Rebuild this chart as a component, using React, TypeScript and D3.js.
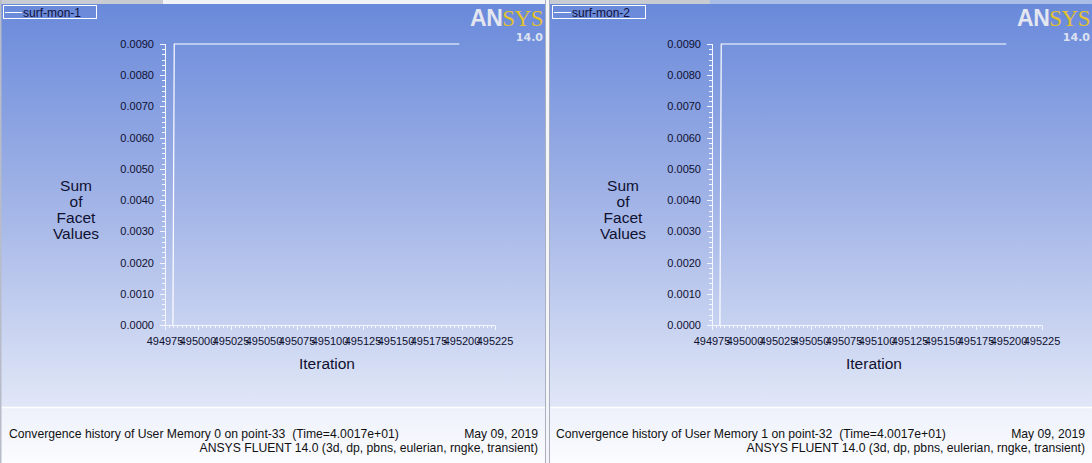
import React from "react";
import * as d3 from "d3";

const W = 1092;
const H = 463;

const panelNames = ["surf-mon-1", "surf-mon-2"];
const footerTitles = [
  "Convergence history of User Memory 0 on point-33  (Time=4.0017e+01)",
  "Convergence history of User Memory 1 on point-32  (Time=4.0017e+01)",
];
const footerDate = "May 09, 2019";
const footerVersion = "ANSYS FLUENT 14.0 (3d, dp, pbns, eulerian, rngke, transient)";

const iterations = [494981, 494982, 495198];
const series1 = [0, 0.009, 0.009];
const series2 = [0, 0.009, 0.009];
const seriesList = [series1, series2];

const xTicks = [494975, 495000, 495025, 495050, 495075, 495100, 495125, 495150, 495175, 495200, 495225];
const yTicks = [0, 0.001, 0.002, 0.003, 0.004, 0.005, 0.006, 0.007, 0.008, 0.009];
const yLabelLines = ["Sum", "of", "Facet", "Values"];

const PW = 547;
const font = "'Liberation Sans', Arial, sans-serif";

function Panel({ idx }: { idx: number }) {
  const ox = idx * PW;
  const x = d3.scaleLinear().domain([494975, 495225]).range([165, 495]);
  const y = d3.scaleLinear().domain([0, 0.009]).range([325, 44]);
  const vals = seriesList[idx];
  const pts: [number, number][] = iterations.map((it, i) => [it, vals[i]]);
  const line = d3
    .line<[number, number]>()
    .x((d) => x(d[0]))
    .y((d) => y(d[1]));

  const yMinor: number[] = [];
  for (let i = 0; i < yTicks.length - 1; i++) {
    for (let k = 1; k < 6; k++) yMinor.push(yTicks[i] + ((yTicks[i + 1] - yTicks[i]) * k) / 6);
  }
  const xMinor: number[] = [];
  for (let i = 0; i < xTicks.length - 1; i++) {
    for (let k = 1; k < 8; k++) xMinor.push(xTicks[i] + ((xTicks[i + 1] - xTicks[i]) * k) / 8);
  }
  const gid = `bg${idx}`;
  const axisCol = "#f4f6ff";
  return (
    <g transform={`translate(${ox},0)`}>
      <defs>
        <linearGradient id={gid} x1="0" y1="0" x2="0" y2="1">
          <stop offset="0" stopColor="#6989da" />
          <stop offset="0.5" stopColor="#a3b5e7" />
          <stop offset="1" stopColor="#e1e7f7" />
        </linearGradient>
        <linearGradient id={gid + "f"} x1="0" y1="0" x2="0" y2="1">
          <stop offset="0" stopColor="#eef1fb" />
          <stop offset="1" stopColor="#fbfcff" />
        </linearGradient>
      </defs>
      <rect x={0} y={4} width={PW} height={404} fill={`url(#${gid})`} />
      <rect x={0} y={408} width={PW} height={H - 408} fill={`url(#${gid}f)`} />
      <line x1={0} x2={PW} y1={407.5} y2={407.5} stroke="#ffffff" strokeWidth={1.5} />
      {/* legend */}
      <rect x={idx ? 5.5 : 3.5} y={5.5} width={93} height={13} fill="none" stroke="#ffffff" strokeWidth={1} />
      <line x1={idx ? 7 : 5} x2={idx ? 24 : 22} y1={12.5} y2={12.5} stroke="#ffffff" strokeWidth={1} />
      <text x={idx ? 25 : 23} y={16.5} fontFamily={font} fontSize={12} fill="#10103a">
        {panelNames[idx]}
      </text>
      {/* logo */}
      <text x={543} y={26} textAnchor="end" fontSize={23} fontWeight="bold" letterSpacing={-0.5}>
        <tspan fontFamily={font} fill="#e4e6f0">AN</tspan>
        <tspan fontFamily="'Liberation Serif', serif" fill="#e3c12e" fontWeight="normal">SYS</tspan>
      </text>
      <text x={543} y={41} textAnchor="end" fontFamily="'DejaVu Sans', sans-serif" fontWeight="bold" fontSize={11} fill="#dde2f2">
        14.0
      </text>
      {/* y axis */}
      <line x1={165.5} x2={165.5} y1={y(0.009)} y2={y(0)} stroke={axisCol} />
      {yMinor.map((v, i) => (
        <line key={"ym" + i} x1={162} x2={165.5} y1={Math.round(y(v)) + 0.5} y2={Math.round(y(v)) + 0.5} stroke={axisCol} />
      ))}
      {yTicks.map((v) => (
        <g key={"y" + v}>
          <line x1={160} x2={165.5} y1={Math.round(y(v)) + 0.5} y2={Math.round(y(v)) + 0.5} stroke={axisCol} />
          <text x={154} y={y(v) + 4} textAnchor="end" fontFamily={font} fontSize={11} fill="#101030">
            {v.toFixed(4)}
          </text>
        </g>
      ))}
      {/* x axis */}
      <line x1={165} x2={x(495225)} y1={325.5} y2={325.5} stroke={axisCol} />
      {xMinor.map((v, i) => (
        <line key={"xm" + i} x1={Math.round(x(v)) + 0.5} x2={Math.round(x(v)) + 0.5} y1={325.5} y2={328} stroke={axisCol} />
      ))}
      {xTicks.map((v) => (
        <g key={"x" + v}>
          <line x1={Math.round(x(v)) + 0.5} x2={Math.round(x(v)) + 0.5} y1={325.5} y2={330} stroke={axisCol} />
          <text x={x(v)} y={345} textAnchor="middle" fontFamily={font} fontSize={11} fill="#101030">
            {String(v)}
          </text>
        </g>
      ))}
      <text x={327} y={369} textAnchor="middle" fontFamily={font} fontSize={15.5} fill="#101030">
        Iteration
      </text>
      {yLabelLines.map((t, i) => (
        <text key={t} x={76} y={191 + i * 16} textAnchor="middle" fontFamily={font} fontSize={15.5} fill="#101030">
          {t}
        </text>
      ))}
      {/* data */}
      <path d={line(pts) || ""} fill="none" stroke="#ffffff" strokeWidth={1.2} />
      {/* footer */}
      <text x={9} y={438} fontFamily={font} fontSize={12.2} fill="#111" style={{ whiteSpace: "pre" }}>
        {footerTitles[idx]}
      </text>
      <text x={538} y={438} textAnchor="end" fontFamily={font} fontSize={12.2} fill="#111">
        {footerDate}
      </text>
      <text x={538} y={452} textAnchor="end" fontFamily={font} fontSize={12.2} fill="#111">
        {footerVersion}
      </text>
    </g>
  );
}

export default function App() {
  return (
    <svg width={W} height={H} style={{ position: "absolute", left: 0, top: 0, display: "block" }}>
      <rect x={0} y={0} width={W} height={H} fill="#ffffff" />
      <Panel idx={0} />
      <Panel idx={1} />
      <rect x={0} y={0} width={163} height={4} fill="#c9cbd3" />
      <rect x={163} y={0} width={384} height={4} fill="#f2f3f7" />
      <rect x={549} y={0} width={161} height={4} fill="#c9cbd3" />
      <rect x={710} y={0} width={382} height={4} fill="#a9bde6" />
      <rect x={0} y={0} width={1.5} height={H} fill="#b8bcc8" />
      <rect x={545.5} y={0} width={3.5} height={H} fill="#f4f5f9" />
      <line x1={545.5} x2={545.5} y1={0} y2={H} stroke="#aab0c0" />
      <line x1={549.5} x2={549.5} y1={0} y2={H} stroke="#aab0c0" />
    </svg>
  );
}
